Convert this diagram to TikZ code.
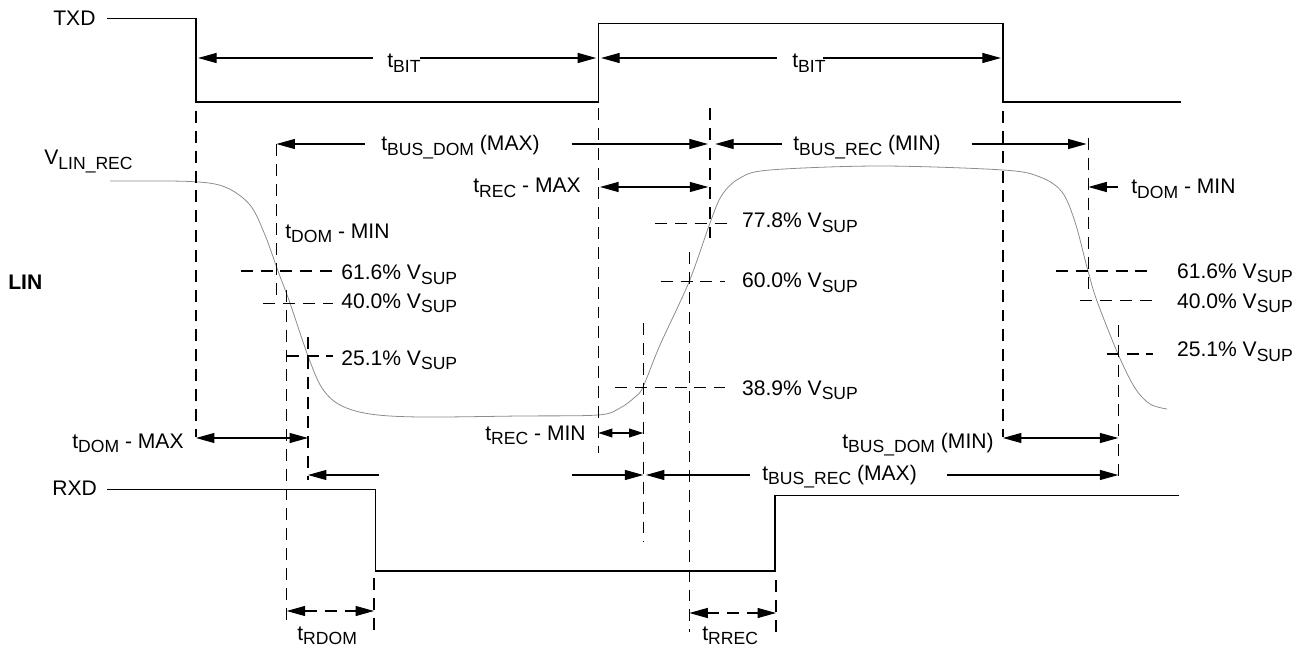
\documentclass[tikz,border=0pt]{standalone}
\usepackage{fontspec}
\setmainfont{Liberation Sans}
\usetikzlibrary{arrows.meta}

\newcommand{\sbs}[1]{\raisebox{-2.6pt}{\fontsize{10}{11}\selectfont #1}}

\begin{document}
\begin{tikzpicture}[x=0.02cm, y=-0.02cm,
        every node/.style={inner sep=0pt, anchor=base west, font=\fontsize{12}{14}\selectfont},
        wave/.style={line width=0.65pt},
        linwave/.style={line width=0.45pt, black!45},
        guide/.style={line width=0.6pt, dash pattern=on 6.8pt off 4.5pt},
        tip/.style={line width=0.6pt, -{Triangle[length=10.5pt, width=5.7pt]}},
        span/.style={line width=0.6pt, {Triangle[length=10.5pt, width=5.7pt]}-{Triangle[length=10.5pt, width=5.7pt]}},
        smallspan/.style={line width=0.6pt, {Triangle[length=8pt, width=5pt]}-{Triangle[length=8pt, width=5pt]}}]
        \useasboundingbox (0,0) rectangle (1303,652);
        % edges
        \coordinate (eA) at (196,0);
        \coordinate (eB) at (276.5,0);
        \coordinate (eC) at (286.7,0);
        \coordinate (eD) at (308,0);
        \coordinate (eE) at (374,0);
        \coordinate (eF) at (598.3,0);
        \coordinate (eG) at (643.3,0);
        \coordinate (eH) at (689.3,0);
        \coordinate (eI) at (710,0);
        \coordinate (eJ) at (776,0);
        \coordinate (eK) at (1003,0);
        \coordinate (eL) at (1088.3,0);
        \coordinate (eM) at (1118.3,0);
        % signal names
        \node (txd) at (53,26) {TXD};
        \node (rxd) at (52,495) {RXD};
        \node (vlin) at (44,165) {V\sbs{LIN\_REC}};
        \node (lin) at (8,290) {\bfseries LIN};
        % waveforms
        \draw[wave] (107,18.3) -- (196,18.3) -- (196,102) -- (598.3,102) -- (598.3,23.3)
                -- (1003,23.3) -- (1003,102) -- (1181,102);
        \draw[wave] (107,489.3) -- (375.7,489.3) -- (375.7,571) -- (775,571) -- (775,495.7) -- (1179,495.7);
        \draw[linwave] plot[smooth, tension=0.55] coordinates {(110,181) (190,181.5) (225,187) (250,205)
                (265,235) (278,271) (290,303) (308,356) (322,388) (340,405) (370,414) (420,417) (520,416)
                (598,415) (620,408) (635,397) (643,387) (660,345) (689,282) (710,223) (722,195) (740,178)
                (770,170) (880,166) (1003,170) (1040,177) (1062,192) (1075,222) (1088,271) (1097,301)
                (1118,354) (1135,388) (1150,404) (1167,409)};
        % guide lines
        \foreach \e/\a/\b in {eA/111/437, eB/144/300, eC/290/623, eD/337/480, eE/578/632, eF/108/453,
                eG/323/542, eH/252/632, eI/108/238, eJ/580/633, eK/111/437, eL/138/292, eM/325/478}
                \draw[guide] (\e |- 0,\a) -- (\e |- 0,\b);
        \foreach \a/\b/\y in {240.7/336.7/271, 263.3/333/303.3, 286.7/333/356, 655/731.7/223.3,
                660.7/725/281.7, 615/725/387.3, 1056/1153.3/271, 1080/1153.3/300.7, 1106.7/1153.3/354}
                \draw[guide] (\a,\y) -- (\b,\y);
        % levels
        \node (pA61) at (341,279.5) {61.6\% V\sbs{SUP}};
        \node (pA40) at (341,308) {40.0\% V\sbs{SUP}};
        \node (pA25) at (341,365) {25.1\% V\sbs{SUP}};
        \node (pB78) at (741.7,228) {77.8\% V\sbs{SUP}};
        \node (pB60) at (741.7,288) {60.0\% V\sbs{SUP}};
        \node (pB39) at (741.7,395) {38.9\% V\sbs{SUP}};
        \node (pC61) at (1176.7,278.3) {61.6\% V\sbs{SUP}};
        \node (pC40) at (1176.7,308) {40.0\% V\sbs{SUP}};
        \node (pC25) at (1176.7,356.7) {25.1\% V\sbs{SUP}};
        % timing labels
        \node (tbitA) at (387,68) {t\sbs{BIT}};
        \node (tbitB) at (792,68) {t\sbs{BIT}};
        \node (tbusdomA) at (381,151) {t\sbs{BUS\_DOM} (MAX)};
        \node (tbusrecA) at (793,151) {t\sbs{BUS\_REC} (MIN)};
        \node (trecmax) at (473,193) {t\sbs{REC} - MAX};
        \node (tdomminA) at (285,238) {t\sbs{DOM} - MIN};
        \node (tdomminB) at (1131,194) {t\sbs{DOM} - MIN};
        \node (tdommax) at (72,448) {t\sbs{DOM} - MAX};
        \node (trecmin) at (485,440) {t\sbs{REC} - MIN};
        \node (tbusdomB) at (842,448) {t\sbs{BUS\_DOM} (MIN)};
        \node (tbusrecB) at (762,480) {t\sbs{BUS\_REC} (MAX)};
        \node (trdom) at (297,640) {t\sbs{RDOM}};
        \node (trrec) at (702,640) {t\sbs{RREC}};
        % dimension arrows
        \coordinate (bitAl) at (373,58);
        \coordinate (bitAr) at (420,58);
        \coordinate (bitBl) at (777,58);
        \coordinate (bitBr) at (823,58);
        \coordinate (busAl) at (365,144);
        \coordinate (busAr) at (571.7,144);
        \coordinate (busBl) at (781.7,144);
        \coordinate (busBr) at (971.7,144);
        \coordinate (domMn) at (1118,187);
        \coordinate (busCl) at (379,475);
        \coordinate (busCr) at (571.7,475);
        \coordinate (busDl) at (750,475);
        \coordinate (busDr) at (947,475);
        \draw[tip, shorten >=1.2pt] (bitAl) -- (eA |- bitAl);
        \draw[tip, shorten >=1.2pt] (bitAr) -- (eF |- bitAr);
        \draw[tip, shorten >=1.6pt] (bitBl) -- (eF |- bitBl);
        \draw[tip, shorten >=1.2pt] (bitBr) -- (eK |- bitBr);
        \draw[tip] (busAl) -- (eB |- busAl);
        \draw[tip, shorten >=1.2pt] (busAr) -- (eI |- busAr);
        \draw[tip, shorten >=3pt] (busBl) -- (eI |- busBl);
        \draw[tip, shorten >=1pt] (busBr) -- (eL |- busBr);
        \draw[span, shorten <=1pt, shorten >=1pt] (eF |- 0,187) -- (eI |- 0,187);
        \draw[tip] (domMn) -- (eL |- domMn);
        \draw[span] (eA |- 0,438) -- (eD |- 0,438);
        \draw[smallspan] (eF |- 0,433) -- (eG |- 0,433);
        \draw[span] (eK |- 0,438) -- (eM |- 0,438);
        \draw[tip] (busCl) -- (eD |- busCl);
        \draw[tip] (busCr) -- (eG |- busCr);
        \draw[tip, shorten >=1.5pt] (busDl) -- (eG |- busDl);
        \draw[tip] (busDr) -- (eM |- busDr);
        \draw[span, guide] (eC |- 0,611) -- (eE |- 0,611);
        \draw[span, guide] (eH |- 0,613) -- (eJ |- 0,613);
\end{tikzpicture}
\end{document}
